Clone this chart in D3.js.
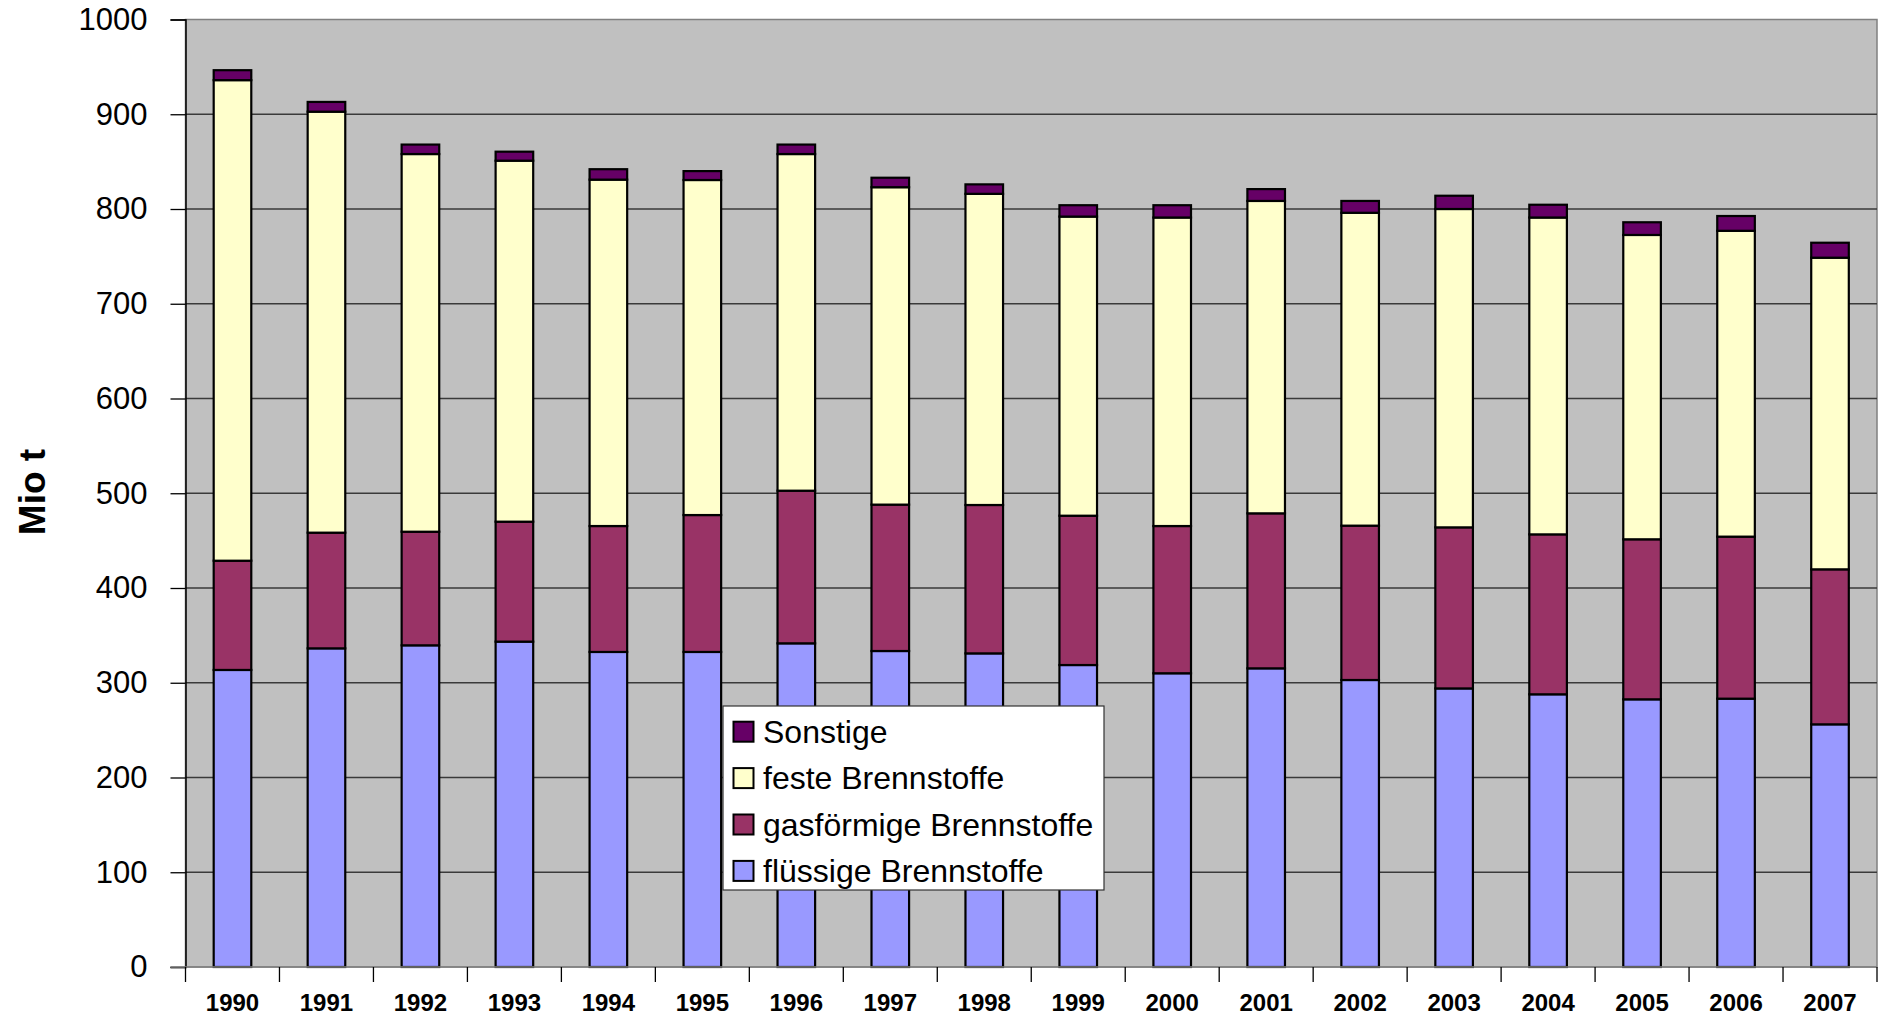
<!DOCTYPE html>
<html>
<head>
<meta charset="utf-8">
<script src="https://cdn.jsdelivr.net/npm/d3@7/dist/d3.min.js"></script>
<style>
  html, body { margin: 0; padding: 0; background: #fff; }
  svg { display: block; font-family: "Liberation Sans", Arial, sans-serif; }
</style>
</head>
<body>
<div id="chart"></div>
<script>
const years = ['1990','1991','1992','1993','1994','1995','1996','1997','1998',
  '1999','2000','2001','2002','2003','2004','2005','2006','2007'];

// Mio t
const fluessig = [313.5, 336.3, 339.5, 343.4, 332.5, 332.5, 341.6, 333.5, 331.0,
  318.7, 310.0, 315.2, 302.9, 294.0, 287.8, 282.5, 283.2, 256.1];
const gasfoermig = [115.3, 122.1, 119.9, 126.6, 132.9, 144.5, 161.1, 154.5, 156.6,
  157.6, 155.4, 163.6, 162.9, 170.0, 168.8, 168.9, 171.0, 163.6];
const fest = [507.2, 444.3, 398.6, 381.0, 365.6, 353.6, 355.3, 335.0, 328.4,
  315.7, 325.6, 329.7, 330.2, 336.0, 334.4, 321.2, 322.8, 328.9];
const sonstige = [10.5, 10.3, 10.0, 9.5, 11.0, 9.4, 10.0, 10.0, 10.0,
  12.0, 13.0, 12.5, 12.5, 14.0, 13.5, 13.4, 15.6, 15.8];

const seriesKeys = ['fluessig', 'gas', 'fest', 'sonst'];
const seriesNames = {
  fluessig: 'flüssige Brennstoffe',
  gas: 'gasförmige Brennstoffe',
  fest: 'feste Brennstoffe',
  sonst: 'Sonstige'
};
const yTicks = [0, 100, 200, 300, 400, 500, 600, 700, 800, 900, 1000];

const COLORS = {
  fluessig: '#9999FF',
  gas: '#993366',
  fest: '#FFFFCC',
  sonst: '#660066'
};

const width = 1883, height = 1017;
const plot = { left: 185.5, right: 1877, top: 19.5, bottom: 967 };

const rows = years.map((y, i) => ({
  year: y,
  fluessig: fluessig[i],
  gas: gasfoermig[i],
  fest: fest[i],
  sonst: sonstige[i]
}));

const stacked = d3.stack().keys(seriesKeys)(rows);

const xScale = d3.scaleBand()
  .domain(years)
  .range([plot.left, plot.right])
  .paddingInner(0.6)
  .paddingOuter(0.3);

const band = (plot.right - plot.left) / years.length;

const yScale = d3.scaleLinear()
  .domain([0, 1000])
  .range([plot.bottom, plot.top]);

const svg = d3.select('#chart')
  .append('svg')
  .attr('width', width)
  .attr('height', height);

// plot background
svg.append('rect')
  .attr('x', plot.left)
  .attr('y', plot.top)
  .attr('width', plot.right - plot.left)
  .attr('height', plot.bottom - plot.top)
  .attr('fill', '#C0C0C0')
  .attr('stroke', '#808080')
  .attr('stroke-width', 1.5);

// gridlines
svg.append('g')
  .selectAll('line')
  .data(yTicks.filter(t => t > 0 && t < 1000))
  .enter()
  .append('line')
  .attr('x1', plot.left)
  .attr('x2', plot.right)
  .attr('y1', d => yScale(d))
  .attr('y2', d => yScale(d))
  .attr('stroke', '#3a3a3a')
  .attr('stroke-width', 1.3);

// bars
svg.append('g')
  .selectAll('g')
  .data(stacked)
  .enter()
  .append('g')
  .attr('fill', d => COLORS[d.key])
  .selectAll('rect')
  .data(d => d)
  .enter()
  .append('rect')
  .attr('x', d => xScale(d.data.year))
  .attr('width', xScale.bandwidth())
  .attr('y', d => yScale(d[1]))
  .attr('height', d => yScale(d[0]) - yScale(d[1]))
  .attr('stroke', '#000')
  .attr('stroke-width', 2.2);

// y axis
const yAxis = svg.append('g')
  .attr('transform', `translate(${plot.left},0)`)
  .call(d3.axisLeft(yScale).tickValues(yTicks).tickFormat(d3.format('d'))
    .tickSize(15).tickPadding(23));
yAxis.select('.domain').attr('stroke', '#000').attr('stroke-width', 1.5);
yAxis.selectAll('.tick line').attr('stroke', '#000').attr('stroke-width', 1.3);
yAxis.selectAll('.tick text')
  .attr('font-size', 31)
  .attr('font-family', '"Liberation Sans", Arial, sans-serif')
  .attr('fill', '#000');

// x axis line + ticks at category borders
svg.append('line')
  .attr('x1', plot.left - 15)
  .attr('x2', plot.right)
  .attr('y1', plot.bottom)
  .attr('y2', plot.bottom)
  .attr('stroke', '#808080')
  .attr('stroke-width', 1.5);

svg.append('g')
  .selectAll('line')
  .data(years.concat(['end']))
  .enter()
  .append('line')
  .attr('x1', (d, i) => plot.left + i * band)
  .attr('x2', (d, i) => plot.left + i * band)
  .attr('y1', plot.bottom)
  .attr('y2', plot.bottom + 15)
  .attr('stroke', '#000')
  .attr('stroke-width', 1.3);

svg.append('g')
  .selectAll('text')
  .data(years)
  .enter()
  .append('text')
  .attr('x', d => xScale(d) + xScale.bandwidth() / 2)
  .attr('y', 1011)
  .attr('text-anchor', 'middle')
  .attr('font-size', 24)
  .attr('font-weight', 'bold')
  .text(d => d);

// y axis title
svg.append('text')
  .attr('transform', 'translate(45,492) rotate(-90)')
  .attr('text-anchor', 'middle')
  .attr('font-size', 37)
  .attr('font-weight', 'bold')
  .text('Mio t');

// legend
const legend = svg.append('g').attr('transform', 'translate(723,706)');
legend.append('rect')
  .attr('width', 381)
  .attr('height', 184)
  .attr('fill', '#fff')
  .attr('stroke', '#333')
  .attr('stroke-width', 1.2);

const legendKeys = ['sonst', 'fest', 'gas', 'fluessig'];
const legendRow = legend.selectAll('.row')
  .data(legendKeys)
  .enter()
  .append('g')
  .attr('transform', (d, i) => `translate(0,${25.7 + i * 46.4})`);

legendRow.append('rect')
  .attr('x', 10.5)
  .attr('y', -10)
  .attr('width', 20)
  .attr('height', 20)
  .attr('fill', d => COLORS[d])
  .attr('stroke', '#000')
  .attr('stroke-width', 2);

legendRow.append('text')
  .attr('x', 40)
  .attr('y', 11)
  .attr('font-size', 32)
  .text(d => seriesNames[d]);
</script>
</body>
</html>
